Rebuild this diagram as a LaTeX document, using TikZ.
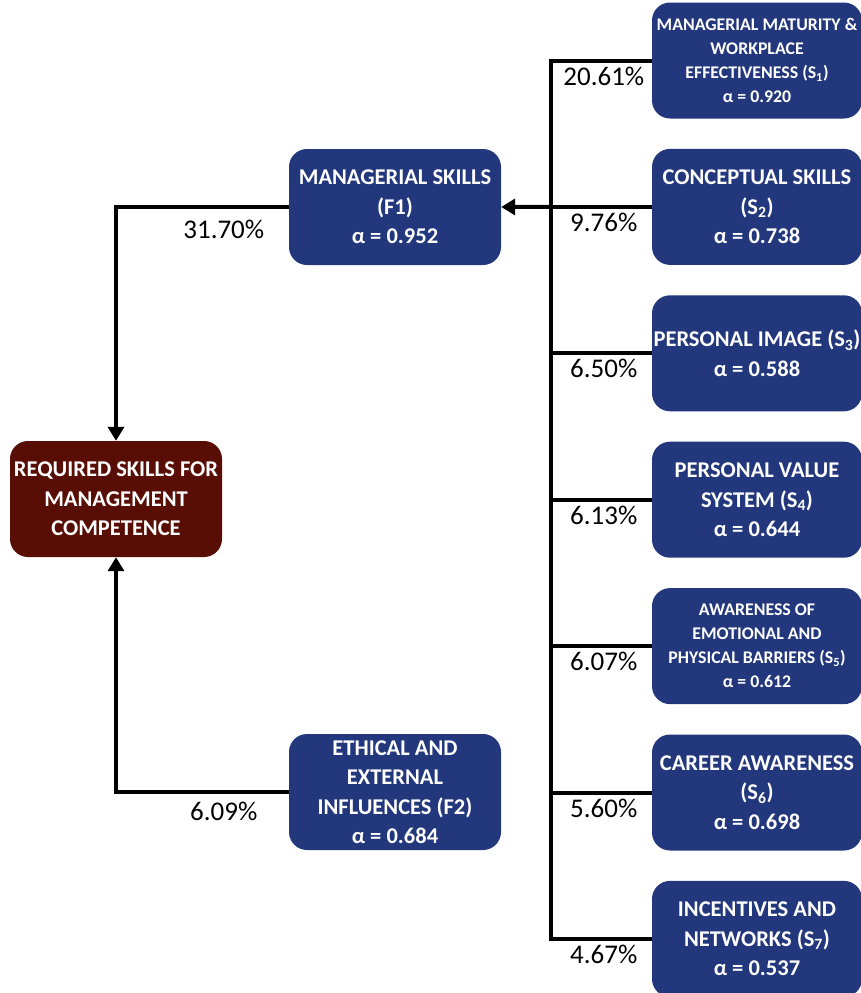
\documentclass[tikz,border=0pt]{standalone}
\usepackage{fontspec}
\setmainfont{Carlito}
\usetikzlibrary{positioning,arrows.meta}
\definecolor{skillblue}{RGB}{34,55,124}
\definecolor{coremaroon}{RGB}{88,14,4}

\begin{document}
\begin{tikzpicture}[x=1pt,y=1pt,
    factor/.style={fill=skillblue, text=white, rounded corners=18pt, align=center,
      minimum width=212pt, minimum height=116pt, inner sep=0pt,
      font=\fontsize{22.5}{29.5}\selectfont\bfseries},
    subitem/.style={factor, minimum width=210pt},
    smalltext/.style={font=\fontsize{17.8}{24}\selectfont\bfseries},
    core/.style={factor, fill=coremaroon},
    pct/.style={inner sep=2pt, font=\fontsize{27}{30}\selectfont},
    link/.style={line width=4pt},
    arr/.style={link, -{Triangle[length=14pt,width=16pt]}},
  ]
  \useasboundingbox (0,0) rectangle (861,-993);

  % factors and outcome
  \node[core] (req) at (116,-499) {REQUIRED SKILLS FOR\\MANAGEMENT\\COMPETENCE};
  \node[factor] (f1) at (395,-207) {MANAGERIAL SKILLS\\(F1)\\α = 0.952};
  \node[factor] (f2) at (395,-792) {ETHICAL AND\\EXTERNAL\\INFLUENCES (F2)\\α = 0.684};

  % sub-skills
  \node[subitem, smalltext] (s1) at (757,-60.5) {MANAGERIAL MATURITY \&\\WORKPLACE\\EFFECTIVENESS (S\textsubscript{1})\\α = 0.920};
  \node[subitem] (s2) [below=30pt of s1] {CONCEPTUAL SKILLS\\(S\textsubscript{2})\\α = 0.738};
  \node[subitem] (s3) [below=30pt of s2] {PERSONAL IMAGE (S\textsubscript{3})\\α = 0.588};
  \node[subitem] (s4) [below=30pt of s3] {PERSONAL VALUE\\SYSTEM (S\textsubscript{4})\\α = 0.644};
  \node[subitem, smalltext] (s5) [below=30pt of s4] {AWARENESS OF\\EMOTIONAL AND\\PHYSICAL BARRIERS (S\textsubscript{5})\\α = 0.612};
  \node[subitem] (s6) [below=30pt of s5] {CAREER AWARENESS\\(S\textsubscript{6})\\α = 0.698};
  \node[subitem] (s7) [below=30pt of s6] {INCENTIVES AND\\NETWORKS (S\textsubscript{7})\\α = 0.537};

  \coordinate (bus) at (551,0);

  \draw[link] (s1.west) -- (s1.west -| bus) -- (s7.west -| bus) -- (s7.west);
  \foreach \i in {2,...,6}
    \draw[link] (s\i.west) -- (s\i.west -| bus);
  \draw[arr] (s2.west -| bus) -- (f1.east);

  \draw[arr] (f1.west) -| (req.north);
  \draw[arr] (f2.west) -| (req.south);

  % loadings
  \foreach \i/\p in {1/20.61,2/9.76,3/6.50,4/6.13,5/6.07,6/5.60,7/4.67}
    \node[pct, anchor=north] (p\i) at ([xshift=-48pt,yshift=-4pt]s\i.west) {\p\%};
  \node[pct, anchor=north] (q1) at ([xshift=-65pt,yshift=-11pt]f1.west) {31.70\%};
  \node[pct, anchor=north] (q2) at ([xshift=-65pt,yshift=-8pt]f2.west) {6.09\%};
\end{tikzpicture}
\end{document}
